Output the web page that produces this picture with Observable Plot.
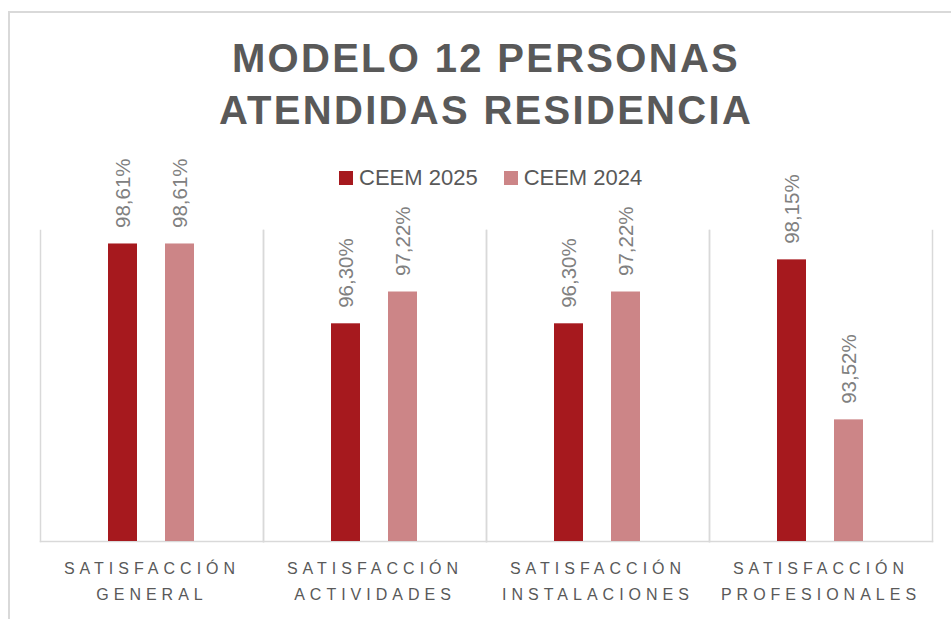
<!DOCTYPE html>
<html>
<head>
<meta charset="utf-8">
<script src="https://cdn.jsdelivr.net/npm/d3@7"></script>
<script src="https://cdn.jsdelivr.net/npm/@observablehq/plot@0.6"></script>
<style>
  html, body { margin: 0; padding: 0; background: #fff; }
  body { width: 951px; height: 619px; position: relative; overflow: hidden; font-family: "Liberation Sans", Arial, sans-serif; }
  #border { position: absolute; left: 8px; top: 11px; width: 1000px; height: 700px; border-left: 2px solid #d9d9d9; border-top: 2px solid #d9d9d9; }
  #title { position: absolute; left: 0; top: 32px; width: 972px; text-align: center; font-weight: bold; font-size: 40px; line-height: 52px; letter-spacing: 2.3px; color: #595959; }
  #legend { position: absolute; left: 339px; top: 166px; display: flex; align-items: center; font-size: 22px; line-height: 24px; color: #595959; }
  #legend .item { display: flex; align-items: center; margin-right: 26px; }
  #legend .sw { width: 14px; height: 14px; margin-right: 6px; }
  #chart { position: absolute; left: 0; top: 150px; }
  #chart g[aria-label="fx-axis tick label"] { letter-spacing: 5px; }
</style>
</head>
<body>
<div id="border"></div>
<div id="title"></div>
<div id="legend"></div>
<div id="chart"></div>
<script>
const titleLines = ["MODELO 12 PERSONAS", "ATENDIDAS RESIDENCIA"];
const categories = ["SATISFACCIÓN GENERAL", "SATISFACCIÓN ACTIVIDADES", "SATISFACCIÓN INSTALACIONES", "SATISFACCIÓN PROFESIONALES"];
const tickLabels = ["SATISFACCIÓN\nGENERAL", "SATISFACCIÓN\nACTIVIDADES", "SATISFACCIÓN\nINSTALACIONES", "SATISFACCIÓN\nPROFESIONALES"];
const series = ["CEEM 2025", "CEEM 2024"];
const colors = ["#A6191E", "#CC8587"];
const values2025 = [98.61, 96.30, 96.30, 98.15];
const values2024 = [98.61, 97.22, 97.22, 93.52];
const yDomain = [90, 99];

const data = [];
categories.forEach((c, i) => {
  data.push({cat: c, serie: series[0], value: values2025[i]});
  data.push({cat: c, serie: series[1], value: values2024[i]});
});

const fmt = v => v.toFixed(2).replace(".", ",") + "%";

document.getElementById("title").innerHTML = titleLines.join("<br>");
const legend = document.getElementById("legend");
series.forEach((s, i) => {
  const item = document.createElement("div");
  item.className = "item";
  item.innerHTML = `<span class="sw" style="background:${colors[i]}"></span><span>${s}</span>`;
  legend.appendChild(item);
});

const grid = "#d9d9d9";
const plot = Plot.plot({
  width: 951,
  height: 469,
  marginTop: 80,
  marginBottom: 78,
  marginLeft: 38,
  marginRight: 18,
  style: {fontFamily: "Liberation Sans, Arial, sans-serif", background: "transparent", overflow: "visible"},
  fx: {domain: categories, padding: 0, label: null, axis: null},
  x: {domain: series, paddingInner: 0.483, paddingOuter: 1.172, axis: null},
  y: {domain: yDomain, axis: null},
  color: {domain: series, range: colors},
  marks: [
    Plot.frame({anchor: "left", stroke: grid, strokeWidth: 1.5}),
    Plot.frame({anchor: "right", stroke: grid, strokeWidth: 1.5}),
    Plot.frame({anchor: "bottom", stroke: grid, strokeWidth: 1.5}),
    Plot.barY(data, {fx: "cat", x: "serie", y1: yDomain[0], y2: "value", fill: "serie"}),
    Plot.text(data, {fx: "cat", x: "serie", y: "value", text: d => fmt(d.value), rotate: -90, textAnchor: "start", dy: -16, fontSize: 20.5, fill: "#808080"}),
    Plot.axisFx({anchor: "bottom", tickSize: 0, tickPadding: 14, fontSize: 16, lineHeight: 1.625, label: null, fill: "#595959",
      tickFormat: d => tickLabels[categories.indexOf(d)]})
  ]
});
document.getElementById("chart").appendChild(plot);
</script>
</body>
</html>
